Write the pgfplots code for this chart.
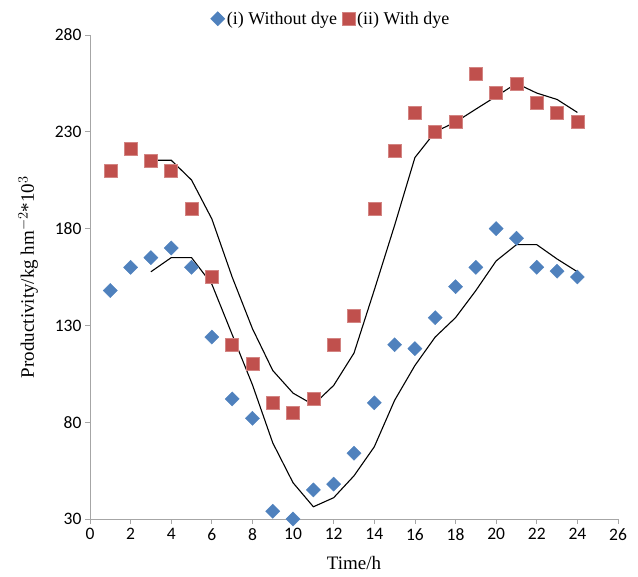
\documentclass[border=0pt]{standalone}
\usepackage{fontspec}
\setmainfont{Liberation Serif}
\newfontfamily\tickfont{Carlito}
\usepackage{pgfplots}
\pgfplotsset{compat=1.18}
\definecolor{blueM}{HTML}{4F81BD}
\definecolor{redM}{HTML}{C0504D}
\definecolor{axgray}{HTML}{A6A6A6}
\begin{document}
\begin{tikzpicture}[x=1pt,y=1pt]
\useasboundingbox (-90,-58) rectangle (548,519);
\begin{axis}[
  at={(0,0)}, anchor=south west,
  scale only axis, width=528pt, height=484pt,
  xmin=0, xmax=26, ymin=30, ymax=280,
  xtick={0,2,...,26}, ytick={30,80,130,180,230,280},
  axis x line*=bottom, axis y line*=left,
  axis line style={axgray, line width=0.8pt, -},
  tick style={axgray, line width=0.8pt},
  tick align=outside, major tick length=5pt,
  ticklabel style={font=\tickfont\fontsize{17.5}{17.5}\selectfont, text=black},
  xticklabel style={yshift=-1pt},
  /pgf/number format/assume math mode=true,
  xlabel={Time/h}, ylabel={Productivity/kg hm$^{-2}$*10$^{3}$},
  label style={font=\fontsize{19}{19}\selectfont},
  xlabel style={yshift=-9pt},
  ylabel style={yshift=10pt},
  legend style={draw=none, at={(0.5,1.0)}, anchor=south, yshift=7pt, xshift=-23pt,
    legend columns=-1, font=\fontsize{18}{18}\selectfont,
    /tikz/every even column/.append style={column sep=3pt},
    inner sep=0pt},
  legend cell align=left,
  clip=false,
]
\addplot[only marks, mark=square*, mark size=5pt, mark options={fill=blueM, draw=blueM, rotate=45}]
coordinates {(1,148)(2,160)(3,165)(4,170)(5,160)(6,124)(7,92)(8,82)(9,34)(10,30)(11,45)(12,48)
(13,64)(14,90)(15,120)(16,118)(17,134)(18,150)(19,160)(20,180)(21,175)(22,160)(23,158)(24,155)};
\addlegendentry{(i) Without dye}
\addplot[only marks, mark=square*, mark size=6.5pt, mark options={fill=redM, draw=redM!70!white, line width=0.6pt}]
coordinates {(1,210)(2,221)(3,215)(4,210)(5,190)(6,155)(7,120)(8,110)(9,90)(10,85)(11,92)(12,120)
(13,135)(14,190)(15,220)(16,240)(17,230)(18,235)(19,260)(20,250)(21,255)(22,245)(23,240)(24,235)};
\addlegendentry{(ii) With dye}
\addplot[black, line width=1.1pt, forget plot]
coordinates {(3,157.7)(4,165)(5,165)(6,151.3)(7,125.3)(8,99.3)(9,69.3)(10,48.7)(11,36.3)(12,41)
(13,52.3)(14,67.3)(15,91.3)(16,109.3)(17,124)(18,134)(19,148)(20,163.3)(21,171.7)(22,171.7)(23,164.3)(24,157.7)};
\addplot[black, line width=1.1pt, forget plot]
coordinates {(3,215.3)(4,215.3)(5,205.1)(6,185)(7,155)(8,128.3)(9,106.7)(10,95)(11,89)(12,99)
(13,115.7)(14,148.3)(15,181.7)(16,216.7)(17,230)(18,235)(19,241.7)(20,248.3)(21,255)(22,250)(23,246.7)(24,240)};
\end{axis}
\end{tikzpicture}
\end{document}
